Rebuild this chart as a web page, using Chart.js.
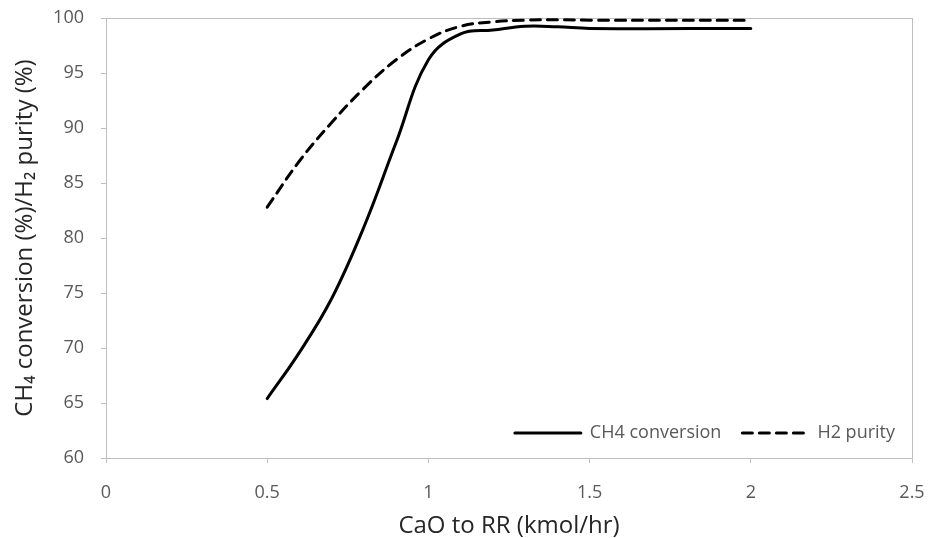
<!DOCTYPE html>
<html>
<head>
<meta charset="utf-8">
<script src="https://cdn.jsdelivr.net/npm/chart.js@4/dist/chart.umd.min.js"></script>
<style>
  html, body { margin: 0; padding: 0; background: #ffffff; }
  #wrap { width: 928px; height: 538px; }
</style>
</head>
<body>
<div id="wrap"><canvas id="chart" width="928" height="538"></canvas></div>
<script>
// CaO feed to the regeneration reactor (kmol/hr)
const caoFeed = [0.5, 0.6, 0.7, 0.8, 0.9, 1.0, 1.1, 1.2, 1.3, 1.4, 1.5, 2.0];
// CH4 conversion (%)
const ch4Conversion = [65.4, 69.6, 74.5, 81.0, 88.7, 96.2, 98.55, 98.9, 99.25, 99.2, 99.05, 99.05];
// H2 purity (%)
const h2Purity = [82.8, 87.0, 90.5, 93.6, 96.2, 98.1, 99.25, 99.65, 99.8, 99.85, 99.8, 99.8];
// axis ticks
const xTickValues = [0, 0.5, 1, 1.5, 2, 2.5];
const yTickValues = [60, 65, 70, 75, 80, 85, 90, 95, 100];

const FONT = '"Open Sans", "Noto Sans", sans-serif';
const AXIS_GREY = '#bfbfbf';
const LABEL_GREY = '#595959';

const toPoints = (xs, ys) => xs.map((x, i) => ({ x: x, y: ys[i] }));

// light frame around the plotting area
const plotFrame = {
  id: 'plotFrame',
  beforeDatasetsDraw(chart) {
    const { ctx, chartArea: a } = chart;
    ctx.save();
    ctx.strokeStyle = AXIS_GREY;
    ctx.lineWidth = 1;
    ctx.strokeRect(Math.round(a.left) + 0.5, Math.round(a.top) + 0.5,
                   Math.round(a.right - a.left), Math.round(a.bottom - a.top));
    ctx.restore();
  }
};

// legend drawn inside the plot, lower right corner
const insideLegend = {
  id: 'insideLegend',
  afterDatasetsDraw(chart) {
    const { ctx, chartArea: a } = chart;
    const sets = chart.data.datasets;
    const sampleW = 68, textGap = 8, itemGap = 20;
    ctx.save();
    ctx.font = '18px ' + FONT;
    const widths = sets.map(ds => ctx.measureText(ds.label).width);
    let total = 0;
    widths.forEach((w, i) => { total += sampleW + textGap + w + (i ? itemGap : 0); });
    let x = a.right - 17 - total;
    const y = a.bottom - 25;
    sets.forEach((ds, i) => {
      ctx.beginPath();
      ctx.setLineDash(ds.borderDash || []);
      ctx.lineCap = ds.borderCapStyle || 'butt';
      ctx.lineWidth = ds.borderWidth;
      ctx.strokeStyle = ds.borderColor;
      ctx.moveTo(x + 1, y);
      ctx.lineTo(x + sampleW - 1, y);
      ctx.stroke();
      ctx.setLineDash([]);
      ctx.fillStyle = LABEL_GREY;
      ctx.textBaseline = 'middle';
      ctx.textAlign = 'left';
      ctx.fillText(ds.label, x + sampleW + textGap, y);
      x += sampleW + textGap + widths[i] + itemGap;
    });
    ctx.restore();
  }
};

new Chart(document.getElementById('chart'), {
  type: 'line',
  data: {
    datasets: [
      {
        label: 'CH4 conversion',
        data: toPoints(caoFeed, ch4Conversion),
        borderColor: '#000000',
        backgroundColor: '#000000',
        borderWidth: 3,
        borderCapStyle: 'round',
        tension: 0.4,
        pointRadius: 0,
        fill: false
      },
      {
        label: 'H2 purity',
        data: toPoints(caoFeed, h2Purity),
        borderColor: '#000000',
        backgroundColor: '#000000',
        borderWidth: 3,
        borderDash: [10, 7],
        borderCapStyle: 'round',
        tension: 0.4,
        pointRadius: 0,
        fill: false
      }
    ]
  },
  options: {
    responsive: false,
    maintainAspectRatio: false,
    animation: false,
    layout: { padding: { left: 0, right: 16, top: 18, bottom: 0 } },
    plugins: {
      legend: { display: false },
      tooltip: { enabled: false }
    },
    scales: {
      x: {
        type: 'linear',
        min: 0,
        max: 2.5,
        afterBuildTicks(scale) { scale.ticks = xTickValues.map(v => ({ value: v })); },
        afterFit(scale) {
          scale.height = 80;
          scale.paddingLeft = 0;
          scale.paddingRight = 0;
        },
        border: { display: true, color: AXIS_GREY, width: 1 },
        grid: { display: true, drawOnChartArea: false, drawTicks: true, tickLength: 5, color: AXIS_GREY },
        ticks: {
          padding: 19,
          color: LABEL_GREY,
          font: { family: FONT, size: 18 },
          maxRotation: 0,
          callback: v => String(v)
        },
        title: {
          display: true,
          text: 'CaO to RR (kmol/hr)',
          color: '#262626',
          font: { family: FONT, size: 24 },
          padding: { top: 0, bottom: -3 }
        }
      },
      y: {
        type: 'linear',
        min: 60,
        max: 100,
        afterBuildTicks(scale) { scale.ticks = yTickValues.map(v => ({ value: v })); },
        afterFit(scale) {
          scale.width = 106;
          scale.paddingTop = 0;
          scale.paddingBottom = 0;
        },
        border: { display: true, color: AXIS_GREY, width: 1 },
        grid: { display: true, drawOnChartArea: false, drawTicks: true, tickLength: 5, color: AXIS_GREY },
        ticks: {
          padding: 17,
          color: LABEL_GREY,
          font: { family: FONT, size: 18 },
          callback: v => String(v)
        },
        title: {
          display: true,
          text: 'CH\u2084 conversion (%)/H\u2082 purity (%)',
          color: '#262626',
          font: { family: FONT, size: 24 },
          padding: { top: 11, bottom: 0 }
        }
      }
    }
  },
  plugins: [plotFrame, insideLegend]
});
</script>
</body>
</html>
